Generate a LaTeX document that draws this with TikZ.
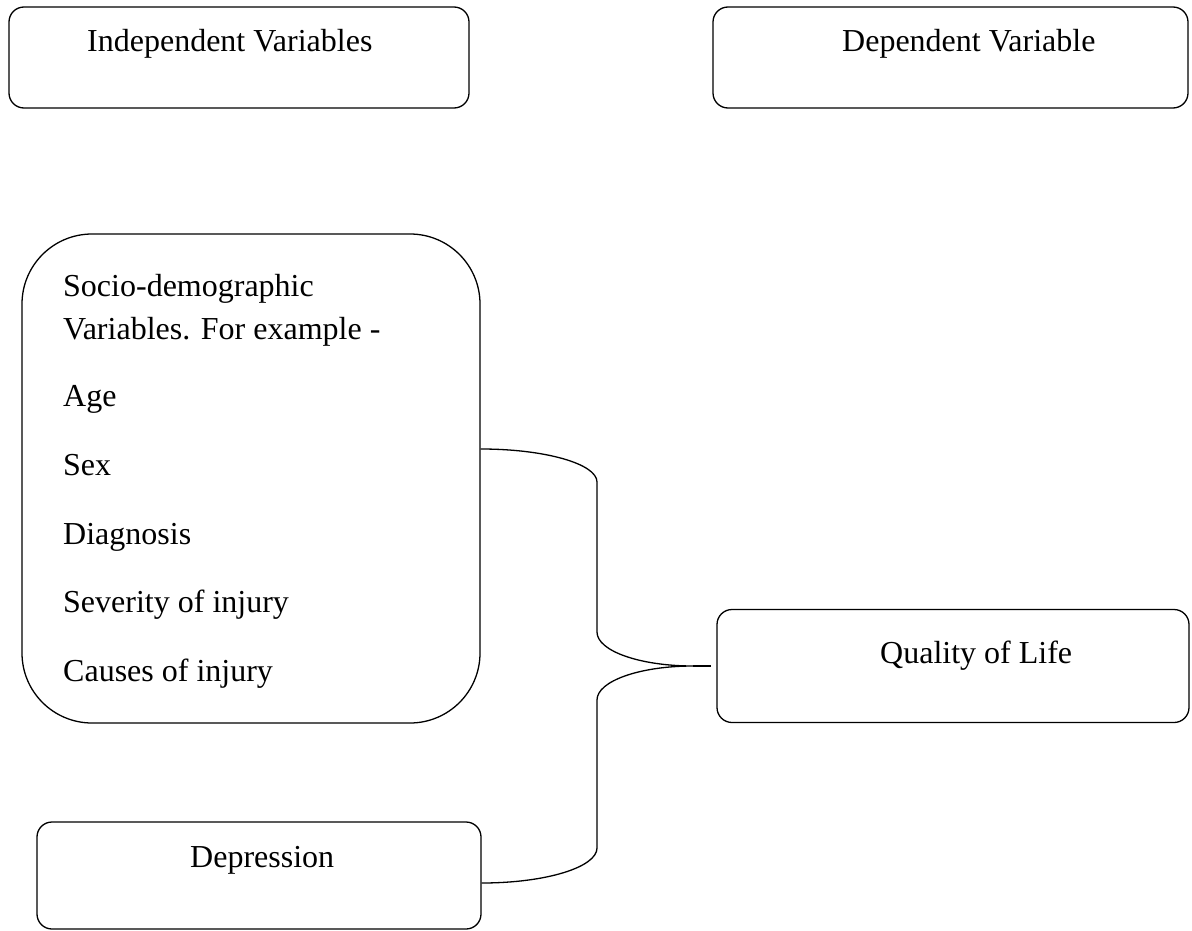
\documentclass[tikz,border=0pt]{standalone}
\usepackage{fontspec}
\setmainfont{Liberation Serif}
\begin{document}
\begin{tikzpicture}[x=1pt,y=-1pt,
  box/.style={draw, line width=1.3pt, rounded corners=15pt, inner sep=0pt},
  lbl/.style={anchor=base west, inner sep=0pt, font=\fontsize{32}{38}\selectfont},
  conn/.style={draw, line width=1.3pt}]
\useasboundingbox (0,0) rectangle (1192,931);
% boxes
\node[box, minimum width=460pt, minimum height=101pt] (indep) at (239,57.5) {};
\node[box, minimum width=475pt, minimum height=101pt] (dep) at (950.5,57.5) {};
\node[box, rounded corners=70pt, minimum width=458pt, minimum height=489pt] (socio) at (251,478.5) {};
\node[box, minimum width=472pt, minimum height=113pt] (qol) at (953,666) {};
\node[box, minimum width=444pt, minimum height=107pt] (depr) at (259,875.5) {};
% texts
\node[lbl] (tindep) at (87,52) {Independent Variables};
\node[lbl] (tdep) at (842,52) {Dependent Variable};
\node[lbl] (ts1) at (63,296) {Socio-demographic};
\node[lbl] (ts2) at (63,339) {Variables. For example -};
\node[lbl] (ts3) at (63,406) {Age};
\node[lbl] (ts4) at (63,475) {Sex};
\node[lbl] (ts5) at (63,544) {Diagnosis};
\node[lbl] (ts6) at (63,612) {Severity of injury};
\node[lbl] (ts7) at (63,681) {Causes of injury};
\node[lbl] (tqol) at (880,663) {Quality of Life};
\node[lbl] (tdepr) at (190,867) {Depression};
% brace connector
\coordinate (tip) at (693,666);
\draw[conn] ([yshift=29.5pt]socio.east) .. controls +(65,0) and +(0,-18) .. (597,482)
  -- (597,632) .. controls +(0,19) and +(-53,0) .. (tip)
  .. controls +(-53,0) and +(0,-19) .. (597,700)
  -- (597,848) .. controls +(0,19) and +(65,0) .. ([yshift=-7.5pt]depr.east);
\draw[conn] (tip) -- ([xshift=-5pt]qol.west);
\end{tikzpicture}
\end{document}
